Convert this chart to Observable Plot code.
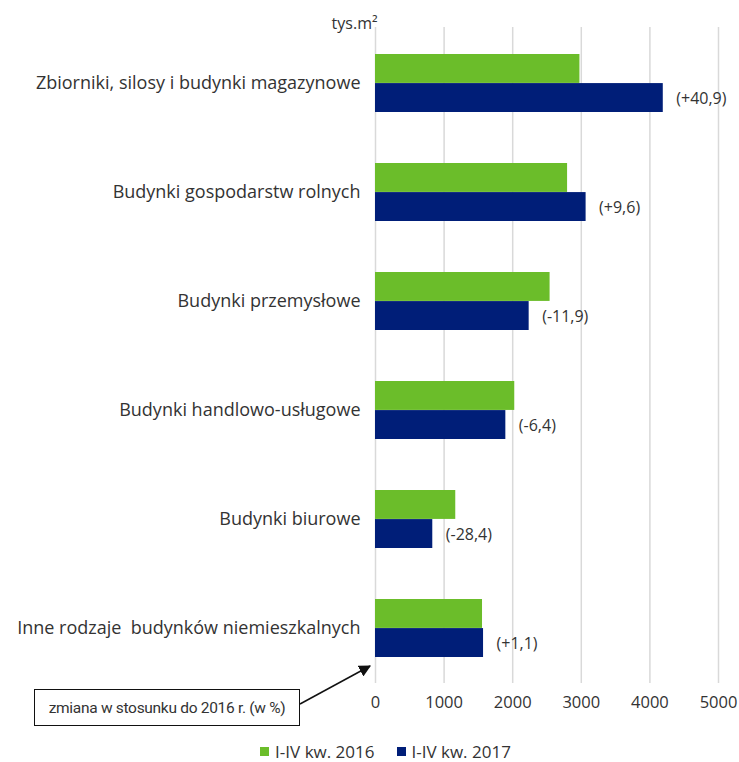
<!DOCTYPE html>
<html>
<head>
<meta charset="utf-8">
<script src="https://cdn.jsdelivr.net/npm/d3@7"></script>
<script src="https://cdn.jsdelivr.net/npm/@observablehq/plot@0.6"></script>
<style>
  body { margin: 0; background: #fff; font-family: "Open Sans", "Noto Sans", sans-serif; }
  #wrap { position: relative; width: 739px; height: 762px; }
  #chart { position: absolute; left: 0; top: 0; }
  #note { position: absolute; left: 34px; top: 689px; width: 264px; height: 35px; border: 1.5px solid #111;
          font-family: "Liberation Sans Narrow", "Roboto", sans-serif; font-size: 15.5px; color: #333;
          display: flex; align-items: center; justify-content: center; letter-spacing: -0.3px; background: #fff; }
  #arrow { position: absolute; left: 0; top: 0; pointer-events: none; }
  #legend { position: absolute; left: 0; width: 739px; top: 740px; display: flex; justify-content: center; gap: 22px;
            font-size: 17px; color: #333; margin-left: 16px; }
  #legend span.item { display: flex; align-items: center; gap: 6px; }
  #legend span.sw { width: 9px; height: 9px; display: inline-block; }
</style>
</head>
<body>
<div id="wrap">
  <div id="chart"></div>
  <svg id="arrow" width="739" height="762">
    <defs><marker id="ah" viewBox="0 0 10 10" refX="9" refY="5" markerWidth="8" markerHeight="8" orient="auto">
      <path d="M0,0L10,5L0,10z" fill="#111"/></marker></defs>
    <line x1="300" y1="704" x2="370" y2="666" stroke="#111" stroke-width="1.5" marker-end="url(#ah)"/>
  </svg>
  <div id="note">zmiana w stosunku do 2016 r. (w %)</div>
  <div id="legend"></div>
</div>
<script>
const categories = [
  "Zbiorniki, silosy i budynki magazynowe",
  "Budynki gospodarstw rolnych",
  "Budynki przemysłowe",
  "Budynki handlowo-usługowe",
  "Budynki biurowe",
  "Inne rodzaje  budynków niemieszkalnych"
];
const values2016 = [2980, 2800, 2545, 2030, 1170, 1560];
const values2017 = [4195, 3070, 2240, 1900, 835, 1575];
const changes = ["(+40,9)", "(+9,6)", "(-11,9)", "(-6,4)", "(-28,4)", "(+1,1)"];
const seriesNames = ["I-IV kw. 2016", "I-IV kw. 2017"];
const xTicks = [0, 1000, 2000, 3000, 4000, 5000];
const unitLabel = "tys.m²";
const colors = ["#6BBD2A", "#001E78"];

const d2016 = categories.map((c, i) => ({category: c, value: values2016[i]}));
const d2017 = categories.map((c, i) => ({category: c, value: values2017[i], label: changes[i]}));

const H = 725, plotTop = 27, plotBottom = 683;
const step = (plotBottom - plotTop) / categories.length;
const bw = step * 0.532;
const half = bw / 2;

const chart = Plot.plot({
  width: 739,
  height: H,
  marginTop: plotTop,
  marginBottom: H - plotBottom,
  marginLeft: 375,
  marginRight: 21,
  style: {fontFamily: "'Open Sans', 'Noto Sans', sans-serif", color: "#333", background: "#fff"},
  x: {domain: [0, 5000], ticks: xTicks, label: null},
  y: {domain: categories, paddingInner: 0.468, paddingOuter: 0.234, label: null},
  marks: [
    Plot.ruleX(xTicks, {stroke: "#d9d9d9", strokeWidth: 1.5}),
    Plot.barX(d2016, {y: "category", x: "value", fill: colors[0], insetBottom: half}),
    Plot.barX(d2017, {y: "category", x: "value", fill: colors[1], insetTop: half}),
    Plot.text(d2017, {y: "category", x: "value", text: "label", textAnchor: "start", dx: 13, dy: half / 2 + 1,
      fontSize: 16, fill: "#333", style: "letter-spacing:0.6px"}),
    Plot.axisX({ticks: xTicks, tickSize: 0, tickPadding: 13, fontSize: 16.5, label: null, tickFormat: d => String(d)}),
    Plot.axisY({tickSize: 0, tickPadding: 15, fontSize: 18, label: null}),
    Plot.text([unitLabel], {frameAnchor: "top-left", textAnchor: "end", dx: 2, dy: -10, fontSize: 16, fill: "#333"})
  ]
});
document.getElementById("chart").appendChild(chart);

const legend = document.getElementById("legend");
seriesNames.forEach((n, i) => {
  const item = document.createElement("span");
  item.className = "item";
  const sw = document.createElement("span");
  sw.className = "sw";
  sw.style.background = colors[i];
  item.appendChild(sw);
  item.appendChild(document.createTextNode(n));
  legend.appendChild(item);
});
</script>
</body>
</html>
